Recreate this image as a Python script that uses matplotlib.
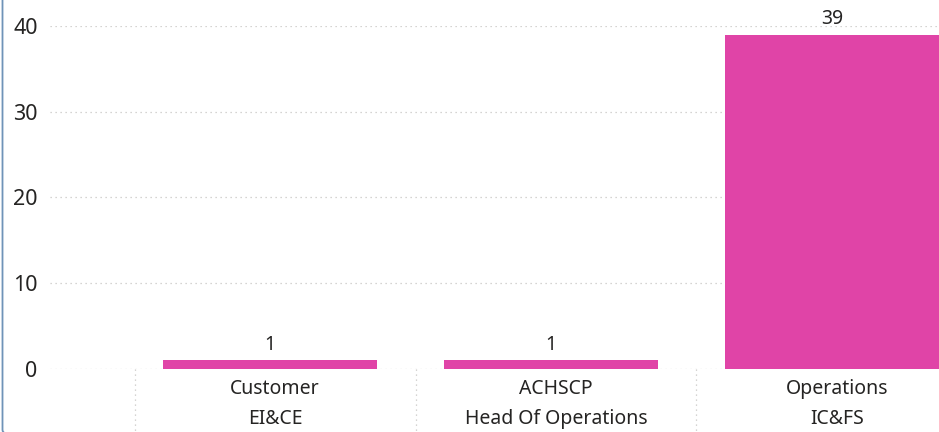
import matplotlib.pyplot as plt
from matplotlib.patches import FancyBboxPatch

# data
categories = ['Customer\nEI&CE', 'ACHSCP\nHead Of Operations', 'Operations\nIC&FS']
values = [1, 1, 39]
yticks = [0, 10, 20, 30, 40]

bar_color = '#E044A7'
text_color = '#252423'
grid_color = '#C8C6C4'

plt.rcParams['font.family'] = ['Noto Sans', 'DejaVu Sans']

W, H = 939, 432
fig = plt.figure(figsize=(W / 100, H / 100), dpi=100)

# axes spans from pixel x=50 to the right edge, y=26 (top) to 369 (bottom)
left, right, top, bottom = 50, 939, 26, 369
ax = fig.add_axes([left / W, 1 - bottom / H, (right - left) / W, (bottom - top) / H])

# category layout: centre of first at px 275, step 281 px
step = 281.0
c0 = 275.0
ax.set_xlim((left - c0) / step, (right - c0) / step)
ax.set_ylim(0, 40)

x = list(range(len(categories)))
shift = -5 / step  # bars sit a touch left of the category centre
bars = ax.bar([xi + shift for xi in x], values, width=214 / step,
              color=bar_color, zorder=3)

for xi, v in zip(x, values):
    ax.text(xi + shift, v + 0.6, str(v), ha='center', va='bottom', fontsize=14,
            color=text_color, clip_on=False)

ax.set_yticks(yticks)
ax.set_yticklabels([str(t) for t in yticks], fontsize=15.5, color=text_color)
ax.tick_params(axis='y', length=0, pad=9)
ax.set_xticks(x)
ax.set_xticklabels(categories, fontsize=14, color=text_color, linespacing=1.7)
ax.tick_params(axis='x', length=0, pad=7)

ax.grid(axis='y', linestyle=(0, (1, 3)), color=grid_color, linewidth=0.9, zorder=0)
for s in ax.spines.values():
    s.set_visible(False)

# dotted category separators below the axis
y_bottom = -(H - bottom) / (bottom - top) * 40
for b in [-0.5, 0.5, 1.5, 2.5]:
    ax.plot([b, b], [0, y_bottom], linestyle=(0, (1, 3)), color=grid_color,
            linewidth=0.9, clip_on=False)

# visual border (left edge with rounded bottom corner, cut by the image edge)
border = FancyBboxPatch((2.5 / W, -3 / H), 1.2, 1.2,
                        boxstyle='round,pad=0,rounding_size=0.012',
                        transform=fig.transFigure, fill=False,
                        edgecolor='#6F93B8', linewidth=1.3)
fig.patches.append(border)

fig.savefig('out.png', dpi=100)
